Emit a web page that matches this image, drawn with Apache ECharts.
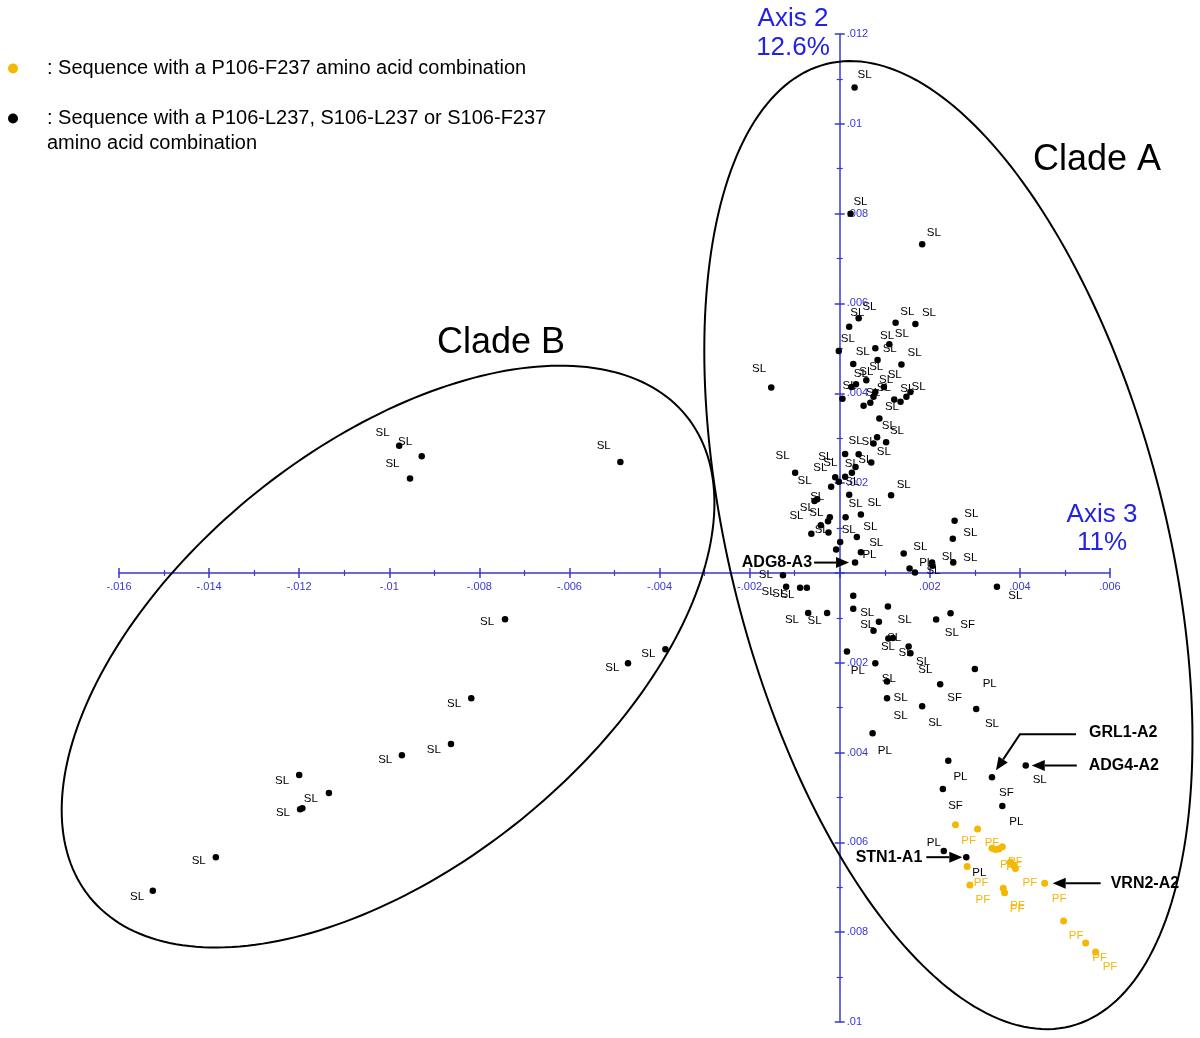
<!DOCTYPE html>
<html><head><meta charset="utf-8">
<script src="https://cdn.jsdelivr.net/npm/echarts@6/dist/echarts.min.js"></script>
<style>html,body{margin:0;padding:0;background:#fff}#c{width:1200px;height:1038px}</style>
</head><body><div id="c"></div>
<script>
// ---------- axis ranges / ticks ----------
const X_MIN = -0.016, X_MAX = 0.006, Y_MIN = -0.010, Y_MAX = 0.012, TICK = 0.002;

// ---------- yellow points: P106-F237 ----------
const pfX = [0.00257,0.00306,0.00338,0.00346,0.00353,0.00361,0.00386,0.00390,0.00379,0.00283,
             0.00289,0.00363,0.00366,0.00455,0.00497,0.00546,0.00568];
const pfY = [-0.00561,-0.00570,-0.00613,-0.00616,-0.00615,-0.00610,-0.00651,-0.00658,-0.00644,-0.00654,
             -0.00695,-0.00702,-0.00712,-0.00691,-0.00775,-0.00824,-0.00844];

// ---------- black points: P106-L237, S106-L237, S106-F237 ----------
const otherX = [0.00033,0.00024,0.00183,0.00042,0.00021,0.00124,0.00168,-0.00002,0.00079,0.00110,
  0.00084,0.00030,0.00137,-0.00152,0.00059,0.00026,0.00036,0.00098,0.00079,0.00075,
  0.00068,0.00053,0.00006,0.00121,0.00135,0.00148,0.00157,0.00088,0.00083,0.00103,
  0.00075,0.00012,0.00042,0.00070,0.00035,0.00027,-0.00099,-0.00010,-0.00002,0.00012,
  -0.00019,0.00114,0.00021,-0.00050,-0.00056,0.00047,0.00013,-0.00022,-0.00026,-0.00042,
  -0.00025,-0.00063,0.00038,0.00001,-0.00008,0.00047,0.00034,0.00142,0.00155,0.00167,
  0.00205,0.00206,0.00255,0.00251,0.00252,-0.00126,-0.00119,-0.00088,-0.00073,0.00349,
  0.00030,0.00030,0.00107,-0.00070,-0.00028,0.00087,0.00075,0.00214,0.00246,0.00108,
  0.00118,0.00016,0.00153,0.00157,0.00079,0.00300,0.00105,0.00223,0.00105,0.00183,
  0.00303,0.00073,0.00241,0.00338,0.00413,0.00229,0.00361,0.00231,0.00281,-0.00743,
  -0.00387,-0.00470,-0.00818,-0.00863,-0.00972,-0.01200,-0.01134,-0.01198,-0.01193,-0.01385,
  -0.01525,-0.00978,-0.00928,-0.00954,-0.00487];
const otherY = [0.01081,0.00800,0.00732,0.00567,0.00548,0.00557,0.00554,0.00494,0.00500,0.00509,
  0.00474,0.00465,0.00464,0.00413,0.00429,0.00414,0.00420,0.00414,0.00403,0.00392,
  0.00379,0.00372,0.00388,0.00386,0.00381,0.00392,0.00403,0.00344,0.00302,0.00291,
  0.00288,0.00265,0.00264,0.00246,0.00236,0.00223,0.00223,0.00213,0.00203,0.00214,
  0.00192,0.00173,0.00174,0.00164,0.00160,0.00130,0.00124,0.00124,0.00115,0.00106,
  0.00090,0.00087,0.00080,0.00069,0.00052,0.00046,0.00023,0.00043,0.00010,0.00001,
  0.00023,0.00016,0.00116,0.00076,0.00023,-0.00005,-0.00031,-0.00033,-0.00033,-0.00031,
  -0.00051,-0.00080,-0.00075,-0.00089,-0.00089,-0.00109,-0.00129,-0.00104,-0.00090,-0.00146,
  -0.00145,-0.00175,-0.00164,-0.00179,-0.00201,-0.00214,-0.00242,-0.00248,-0.00279,-0.00297,
  -0.00303,-0.00357,-0.00418,-0.00455,-0.00429,-0.00481,-0.00519,-0.00619,-0.00633,-0.00103,
  -0.00170,-0.00201,-0.00279,-0.00381,-0.00406,-0.00450,-0.00490,-0.00526,-0.00524,-0.00633,
  -0.00708,0.00283,0.00260,0.00210,0.00247];

// ---------- point labels (black) ----------
const labelText = ['SL','SL','SL','SL','SL','SL','SL','SL','SL','SL',
  'SL','SL','SL','SL','SL','SL','SL','SL','SL','SL',
  'SL','SL','SL','SL','SL','SL','SL','SL','SL','SL',
  'SL','SL','SL','SL','SL','SL','SL','SL','SL','SL',
  'SL','SL','SL','SL','SL','SL','SL','SL','SL','SL',
  'PL','PL','SL','SL','SL','SL','SL','SL','SL','SL',
  'SL','SL','SL','SL','SL','SL','SL','SL','SF','SL',
  'SL','SL','SL','SL','PL','SL','PL','SL','SF','SL',
  'SL','SL','PL','PL','SL','SF','SF','PL','PL','PL',
  'SL','SL','SL','SL','SL','SL','SL','SL','SL','SL',
  'SL','SL','SL','SL','SL'];
const labelX = [0.00055,0.00046,0.00209,0.00039,0.00066,0.00150,0.00198,0.00018,0.00105,0.00138,
  0.00051,0.00111,0.00166,-0.00179,0.00081,0.00047,0.00059,0.00122,0.00103,0.00022,
  0.00098,0.00074,0.00150,0.00175,0.00116,0.00109,0.00127,0.00035,0.00064,0.00098,
  -0.00127,-0.00032,-0.00021,-0.00043,0.00027,0.00057,-0.00078,0.00142,0.00028,0.00035,
  0.00077,-0.00050,-0.00073,-0.00052,-0.00096,-0.00040,0.00020,0.00068,0.00081,0.00179,
  0.00066,0.00192,0.00208,0.00242,0.00290,0.00290,0.00292,-0.00164,-0.00158,-0.00134,
  -0.00116,0.00390,-0.00106,-0.00056,0.00061,0.00061,0.00144,0.00249,0.00284,0.00121,
  0.00107,0.00146,0.00185,0.00190,0.00040,0.00109,0.00333,0.00135,0.00255,0.00135,
  0.00212,0.00338,0.00100,0.00268,0.00444,0.00370,0.00257,0.00392,0.00209,0.00310,
  -0.00783,-0.00425,-0.00505,-0.00856,-0.00901,-0.01009,-0.01238,-0.01174,-0.01236,-0.01423,
  -0.01560,-0.01015,-0.00965,-0.00993,-0.00524];
const labelY = [0.01108,0.00826,0.00758,0.00579,0.00592,0.00581,0.00579,0.00521,0.00527,0.00533,
  0.00492,0.00498,0.00490,0.00454,0.00458,0.00444,0.00448,0.00440,0.00429,0.00416,
  0.00413,0.00401,0.00411,0.00414,0.00370,0.00327,0.00316,0.00293,0.00291,0.00270,
  0.00261,0.00259,0.00245,0.00233,0.00244,0.00251,0.00204,0.00196,0.00202,0.00153,
  0.00155,0.00169,0.00146,0.00133,0.00126,0.00095,0.00095,0.00103,0.00066,0.00058,
  0.00040,0.00022,0.00005,0.00036,0.00034,0.00089,0.00131,-0.00005,-0.00042,-0.00047,
  -0.00049,-0.00052,-0.00105,-0.00107,-0.00088,-0.00115,-0.00105,-0.00133,-0.00115,-0.00145,
  -0.00165,-0.00179,-0.00198,-0.00215,-0.00218,-0.00235,-0.00246,-0.00279,-0.00279,-0.00318,
  -0.00333,-0.00335,-0.00397,-0.00454,-0.00461,-0.00490,-0.00519,-0.00555,-0.00601,-0.00668,
  -0.00110,-0.00181,-0.00212,-0.00292,-0.00395,-0.00417,-0.00464,-0.00504,-0.00535,-0.00642,
  -0.00722,0.00313,0.00291,0.00242,0.00282];

// ---------- point labels (yellow "PF") ----------
const pfLabelX = [0.00286,0.00338,0.00372,0.00390,0.00386,0.00314,0.00318,0.00395,0.00394,0.00422,
  0.00487,0.00525,0.00577,0.00600];
const pfLabelY = [-0.00597,-0.00602,-0.00651,-0.00643,-0.00655,-0.00691,-0.00728,-0.00742,-0.00747,-0.00691,
  -0.00726,-0.00809,-0.00858,-0.00878];

// ---------- clade ellipses (centre, semi-axes, tilt in degrees) ----------
const CLADES = [
  {name:'Clade A', cx: 0.002412, cy: 0.000619, a: 0.01105, b: 0.00484, angle: -75.8},
  {name:'Clade B', cx: -0.010027, cy: -0.001863, a: 0.008518, b: 0.00468, angle: 39}
];

// ---------- annotated sequences (index into point arrays) ----------
const ANNOTATIONS = [
  {name:'ADG8-A3', src:'other', idx:56, tip:[-6,0],  path:[[-41,0]],            text:[-43,0],  align:'right'},
  {name:'GRL1-A2', src:'other', idx:93, tip:[4,-7],  path:[[84,-43],[28,-43]],  text:[97,-45], align:'left'},
  {name:'ADG4-A2', src:'other', idx:94, tip:[6,0],   path:[[51,0]],             text:[63,0],   align:'left'},
  {name:'STN1-A1', src:'other', idx:98, tip:[-4,0],  path:[[-40,0]],            text:[-44,0],  align:'right'},
  {name:'VRN2-A2', src:'pf',    idx:13, tip:[8,0],   path:[[56,0]],             text:[66,0],   align:'left'}
];

const AX = '#3838d0';
const TITLE_BLUE = '#2323e0';
const YELLOW = '#f5b800';
const FONT = '"Liberation Sans", Arial, Helvetica, sans-serif';

// grid geometry; axes are moved onto the origin through offsets derived from the scales
const CHART_W = 1200, CHART_H = 1038;
const GRID = {left:119, right:90, top:34, bottom:16};
const PLOT_W = CHART_W - GRID.left - GRID.right;
const PLOT_H = CHART_H - GRID.top - GRID.bottom;
const X_AXIS_OFFSET = -PLOT_H * (0 - Y_MIN) / (Y_MAX - Y_MIN);
const Y_AXIS_OFFSET = -PLOT_W * (0 - X_MIN) / (X_MAX - X_MIN);

function absFmt(v) {
  if (Math.abs(v) < 1e-9) return '';
  return Number(Math.abs(v).toFixed(3)).toString().replace(/^0/, '');
}
const xFmt = v => Math.abs(v) < 1e-9 ? '' : (v < 0 ? '-' : '') + absFmt(v);
const yFmt = v => absFmt(v);

function baseAxis(min, max, pos, offset) {
  return {type:'value', min:min, max:max, interval:TICK, position:pos, offset:offset, splitLine:{show:false}};
}

const chart = echarts.init(document.getElementById('c'), null, {renderer:'canvas'});

const option = {
  animation:false,
  backgroundColor:'#fff',
  grid:{left:GRID.left, right:GRID.right, top:GRID.top, bottom:GRID.bottom, containLabel:false, outerBoundsMode:'none'},
  legend:{
    orient:'vertical', left:8, top:56, padding:0, itemWidth:10, itemHeight:10, itemGap:0,
    icon:'circle', selectedMode:false,
    textStyle:{fontSize:20, lineHeight:25, color:'#000', fontFamily:FONT, padding:[0,0,0,24]},
    data:['P106-F237', 'Other combinations'],
    formatter: n => n === 'P106-F237'
      ? ': Sequence with a P106-F237 amino acid combination'
      : '\n: Sequence with a P106-L237, S106-L237 or S106-F237\namino acid combination'
  },
  xAxis:[
    Object.assign(baseAxis(X_MIN, X_MAX, 'bottom', X_AXIS_OFFSET), {
      axisLine:{show:true, onZero:false, lineStyle:{color:AX, width:1.5}},
      axisTick:{show:true, length:5, lineStyle:{color:AX, width:1.5}},
      minorTick:{show:true, splitNumber:2, length:3, lineStyle:{color:AX, width:1.2}},
      axisLabel:{formatter:xFmt, color:AX, fontSize:11, margin:9, fontFamily:FONT, showMinLabel:true, showMaxLabel:true}
    }),
    Object.assign(baseAxis(X_MIN, X_MAX, 'bottom', X_AXIS_OFFSET), {
      axisLine:{show:false, onZero:false},
      axisTick:{show:true, inside:true, length:5, lineStyle:{color:AX, width:1.5}},
      minorTick:{show:true, splitNumber:2, length:3, lineStyle:{color:AX, width:1.2}},
      axisLabel:{show:false}
    })
  ],
  yAxis:[
    Object.assign(baseAxis(Y_MIN, Y_MAX, 'left', Y_AXIS_OFFSET), {
      axisLine:{show:true, onZero:false, lineStyle:{color:AX, width:1.5}},
      axisTick:{show:true, length:5, lineStyle:{color:AX, width:1.5}},
      minorTick:{show:true, splitNumber:2, length:3, lineStyle:{color:AX, width:1.2}},
      axisLabel:{inside:true, formatter:yFmt, color:AX, fontSize:11, margin:7, fontFamily:FONT, showMinLabel:true, showMaxLabel:true}
    }),
    Object.assign(baseAxis(Y_MIN, Y_MAX, 'left', Y_AXIS_OFFSET), {
      axisLine:{show:false, onZero:false},
      axisTick:{show:true, inside:true, length:5, lineStyle:{color:AX, width:1.5}},
      minorTick:{show:true, splitNumber:2, length:3, lineStyle:{color:AX, width:1.2}},
      axisLabel:{show:false}
    })
  ],
  graphic:[
    {type:'text', x:793, y:4, silent:true,
     style:{text:'Axis 2\n12.6%', align:'center', verticalAlign:'top', fill:TITLE_BLUE, font:'26px ' + FONT, lineHeight:29}},
    {type:'text', x:1102, y:501, silent:true,
     style:{text:'Axis 3\n11%', align:'center', verticalAlign:'top', fill:TITLE_BLUE, font:'26px ' + FONT, lineHeight:28}},
    {type:'text', x:1097, y:160, silent:true,
     style:{text:'Clade A', align:'center', verticalAlign:'middle', fill:'#000', font:'36px ' + FONT}},
    {type:'text', x:501, y:343, silent:true,
     style:{text:'Clade B', align:'center', verticalAlign:'middle', fill:'#000', font:'36px ' + FONT}}
  ],
  series:[
    {
      type:'custom', name:'clades', silent:true, clip:false, z:1,
      data: CLADES.map(c => [c.cx, c.cy]),
      encode:{x:0, y:1},
      renderItem:(params, api) => {
        const c = CLADES[params.dataIndex];
        const phi = c.angle * Math.PI / 180;
        const pts = [];
        for (let k = 0; k < 240; k++) {
          const t = k / 240 * 2 * Math.PI;
          const dx = c.a * Math.cos(t), dy = c.b * Math.sin(t);
          pts.push(api.coord([c.cx + dx * Math.cos(phi) - dy * Math.sin(phi),
                              c.cy + dx * Math.sin(phi) + dy * Math.cos(phi)]));
        }
        return {type:'polygon', shape:{points:pts}, style:{fill:'none', stroke:'#000', lineWidth:2}};
      }
    },
    {
      type:'scatter', name:'P106-F237', symbol:'circle', symbolSize:7, z:3, clip:false,
      itemStyle:{color:YELLOW, opacity:1},
      data: pfX.map((x, i) => [x, pfY[i]])
    },
    {
      type:'scatter', name:'Other combinations', symbol:'circle', symbolSize:6.5, z:3, clip:false,
      itemStyle:{color:'#000', opacity:1},
      data: otherX.map((x, i) => [x, otherY[i]])
    },
    {
      type:'custom', name:'labels', silent:true, clip:false, z:4,
      data: labelX.map((x, i) => [x, labelY[i]]),
      encode:{x:0, y:1},
      renderItem:(params, api) => {
        const p = api.coord([api.value(0), api.value(1)]);
        return {type:'text', x:p[0], y:p[1],
          style:{text:labelText[params.dataIndex], align:'center', verticalAlign:'middle', fill:'#000', font:'11.5px ' + FONT}};
      }
    },
    {
      type:'custom', name:'pfLabels', silent:true, clip:false, z:4,
      data: pfLabelX.map((x, i) => [x, pfLabelY[i]]),
      encode:{x:0, y:1},
      renderItem:(params, api) => {
        const p = api.coord([api.value(0), api.value(1)]);
        return {type:'text', x:p[0], y:p[1],
          style:{text:'PF', align:'center', verticalAlign:'middle', fill:'#f3b80a', font:'11.5px ' + FONT}};
      }
    },
    {
      type:'custom', name:'annotations', silent:true, clip:false, z:5,
      data: ANNOTATIONS.map(a => a.src === 'pf' ? [pfX[a.idx], pfY[a.idx]] : [otherX[a.idx], otherY[a.idx]]),
      encode:{x:0, y:1},
      renderItem:(params, api) => {
        const a = ANNOTATIONS[params.dataIndex];
        const p = api.coord([api.value(0), api.value(1)]);
        const tip = [p[0] + a.tip[0], p[1] + a.tip[1]];
        const pts = a.path.map(d => [p[0] + d[0], p[1] + d[1]]);
        const last = pts[pts.length - 1];
        const ang = Math.atan2(tip[1] - last[1], tip[0] - last[0]);
        const L = 13, W = 5.5;
        const base = [tip[0] - L * Math.cos(ang), tip[1] - L * Math.sin(ang)];
        const head = [tip,
          [base[0] + W * Math.sin(ang), base[1] - W * Math.cos(ang)],
          [base[0] - W * Math.sin(ang), base[1] + W * Math.cos(ang)]];
        return {type:'group', children:[
          {type:'polyline', shape:{points:pts.concat([base])}, style:{stroke:'#000', lineWidth:2, fill:'none'}},
          {type:'polygon', shape:{points:head}, style:{fill:'#000'}},
          {type:'text', x:p[0] + a.text[0], y:p[1] + a.text[1],
           style:{text:a.name, align:a.align, verticalAlign:'middle', fill:'#000', font:'bold 16px ' + FONT}}
        ]};
      }
    }
  ]
};
chart.setOption(option);
</script>
</body></html>
